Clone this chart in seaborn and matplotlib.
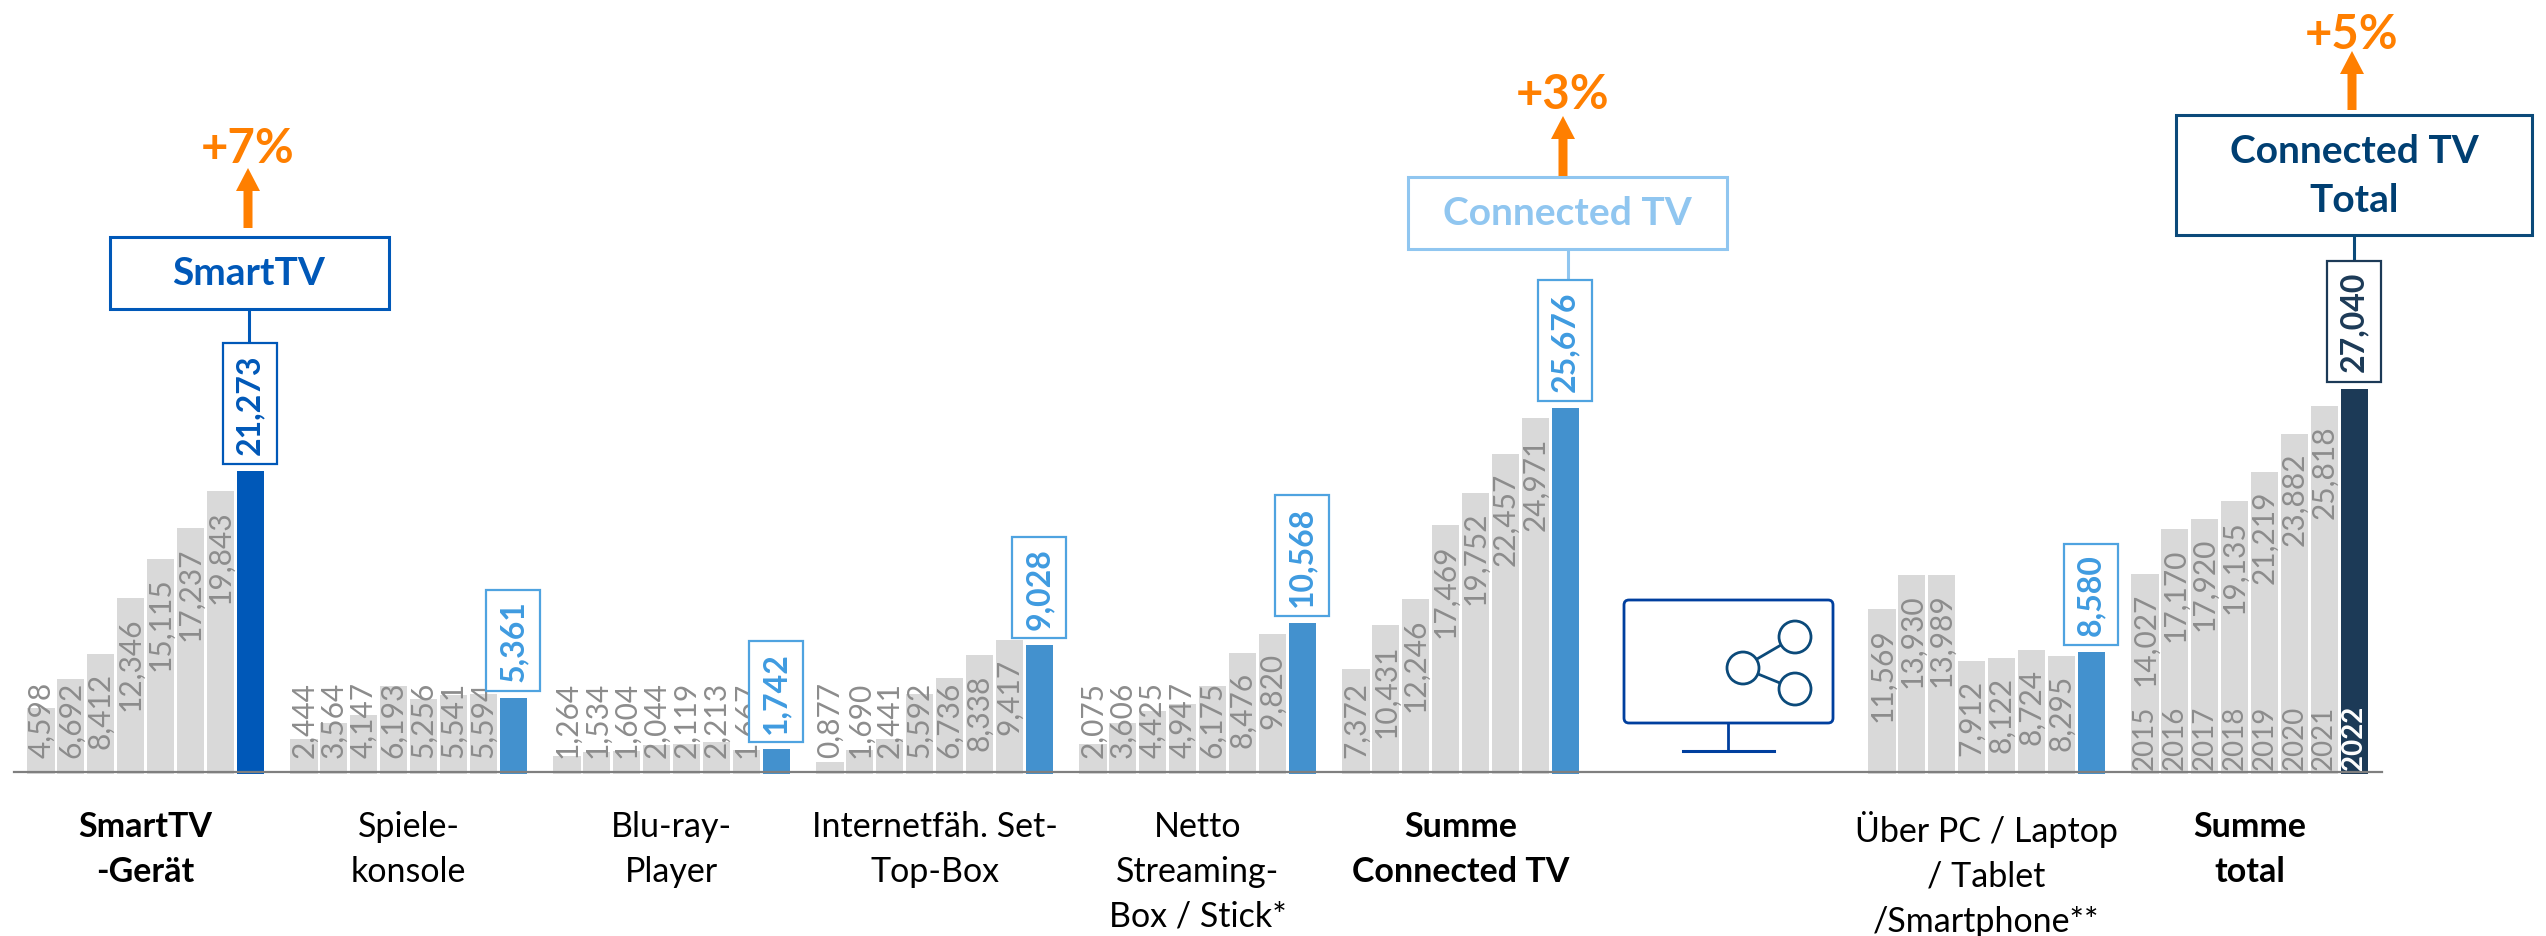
import matplotlib
matplotlib.use('Agg')
import matplotlib.pyplot as plt
from matplotlib.patches import Rectangle, FancyArrow, FancyBboxPatch, Circle
from matplotlib.transforms import Affine2D
import pandas as pd
import seaborn as sns

years = [2015, 2016, 2017, 2018, 2019, 2020, 2021, 2022]

smarttv = [4.598, 6.692, 8.412, 12.346, 15.115, 17.237, 19.843, 21.273]
spiele = [2.444, 3.564, 4.147, 6.193, 5.256, 5.541, 5.594, 5.361]
bluray = [1.264, 1.534, 1.604, 2.044, 2.119, 2.213, 1.667, 1.742]
settop = [0.877, 1.690, 2.441, 5.592, 6.736, 8.338, 9.417, 9.028]
stick = [2.075, 3.606, 4.425, 4.947, 6.175, 8.476, 9.820, 10.568]
summe_ctv = [7.372, 10.431, 12.246, 17.469, 19.752, 22.457, 24.971, 25.676]
pc = [11.569, 13.930, 13.989, 7.912, 8.122, 8.724, 8.295, 8.580]
total = [14.027, 17.170, 17.920, 19.135, 21.219, 23.882, 25.818, 27.040]

# slot 6 stays empty, the monitor icon sits there
groups = [(0, smarttv), (1, spiele), (2, bluray), (3, settop), (4, stick),
          (5, summe_ctv), (7, pc), (8, total)]
group_names = ['SmartTV\n-Gerät', 'Spiele-\nkonsole', 'Blu-ray-\nPlayer',
               'Internetfäh. Set-\nTop-Box', 'Netto\nStreaming-\nBox / Stick*',
               'Summe\nConnected TV', 'Über PC / Laptop\n/ Tablet\n/Smartphone**',
               'Summe\ntotal']
group_bold = [True, False, False, False, False, True, False, True]
last_kind = ['smart', 'mid', 'mid', 'mid', 'mid', 'mid', 'mid', 'navy']

colors = {'old': '#D9D9D9', 'smart': '#0058B8', 'mid': '#4391CE', 'navy': '#1C3A57'}
box_edge = {'smart': '#0058B8', 'mid': '#4FA3E0', 'navy': '#1C3A57'}
box_text = {'smart': '#0058B8', 'mid': '#3F9BE0', 'navy': '#1C3A57'}
ORANGE = '#FF7F00'
GREY_TEXT = '#8C8C8C'

BAR_PX = 29.86
UNIT_PX = 14.25
GROUP_STEP = 263 / BAR_PX
W, H = 2546, 937
BASE_Y = 775
FIRST_X = 41

rows = []
for (slot, vals), kind in zip(groups, last_kind):
    for i, v in enumerate(vals):
        rows.append({'x': slot * GROUP_STEP + i, 'value': v,
                     'kind': kind if i == 7 else 'old', 'year': years[i]})
df = pd.DataFrame(rows)

plt.rcParams['font.family'] = ['Lato', 'DejaVu Sans']
fig = plt.figure(figsize=(W / 100, H / 100), dpi=100)
ax = fig.add_axes([0, 0, 1, 1])
sns.barplot(data=df, x='x', y='value', hue='kind', palette=colors, native_scale=True,
            width=0.905, saturation=1, errorbar=None, legend=False, ax=ax)
ax.set_xlim(-FIRST_X / BAR_PX, (W - FIRST_X) / BAR_PX)
ax.set_ylim((BASE_Y - H) / UNIT_PX, BASE_Y / UNIT_PX)
ax.axis('off')

# pixel coords of the picture, y pointing down
px = Affine2D().scale(1, -1).translate(0, H)


def fmt(v):
    return f'{v:.3f}'.replace('.', ',')


ax.plot([14, 2382], [773, 773], color='#7F7F7F', lw=1.6, transform=px, zorder=4)

for r in df.itertuples():
    if r.kind == 'old':
        label = fmt(r.value)
        length = 85 if len(label) > 5 else 71
        top = r.value * UNIT_PX - 18
        if top - length < 17:
            ax.text(r.x, 17 / UNIT_PX, label, rotation=90, ha='center', va='bottom',
                    fontsize=21.5, color=GREY_TEXT, zorder=5)
        else:
            ax.text(r.x, top / UNIT_PX, label, rotation=90, ha='center', va='top',
                    fontsize=21.5, color=GREY_TEXT, zorder=5)
    else:
        label = fmt(r.value)
        box_h = 121 if len(label) > 5 else 101
        bottom = r.value + 7 / UNIT_PX
        ax.add_patch(Rectangle((r.x - 27 / BAR_PX, bottom), 54 / BAR_PX, box_h / UNIT_PX,
                               fc='white', ec=box_edge[r.kind], lw=1.6, zorder=6))
        ax.text(r.x, bottom + box_h / 2 / UNIT_PX, label, rotation=90, ha='center', va='center',
                fontsize=23, fontweight='bold', color=box_text[r.kind], zorder=7)

# years inside the last group
for i, y in enumerate(years):
    x = 8 * GROUP_STEP + i
    ax.text(x, 5 / UNIT_PX, str(y), rotation=90, ha='center', va='bottom', fontsize=20,
            color='white' if i == 7 else GREY_TEXT, fontweight='bold' if i == 7 else 'normal', zorder=7)

for (slot, vals), name, bold in zip(groups, group_names, group_bold):
    ax.text(slot * GROUP_STEP + 3.5, -36 / UNIT_PX, name, ha='center', va='top', fontsize=24.5,
            linespacing=1.5, color='black', fontweight='bold' if bold else 'normal')


# callouts above the highlighted bars
def callout(x0, x1, y0, y1, color, text, text_color, ty, line_x, line_y1, arrow_x, arrow_y0, arrow_y1, pct, pct_y):
    ax.add_patch(Rectangle((x0, y0), x1 - x0, y1 - y0, fc='white', ec=color, lw=2.2,
                           transform=px, zorder=6))
    ax.plot([line_x, line_x], [y1, line_y1], color=color, lw=2.2, transform=px, zorder=5)
    ax.text(ty[0], ty[1], text, ha='center', va='center', fontsize=28, fontweight='bold',
            color=text_color, linespacing=1.5, transform=px, zorder=7)
    ax.add_patch(FancyArrow(arrow_x, arrow_y0, 0, arrow_y1 - arrow_y0, width=9, head_width=24,
                            head_length=23, length_includes_head=True, color=ORANGE, lw=0,
                            transform=px, zorder=7))
    ax.text(arrow_x, pct_y, pct, ha='center', va='center', fontsize=34, fontweight='bold',
            color=ORANGE, transform=px, zorder=7)


callout(110, 389, 238, 310, '#0058B8', 'SmartTV', '#0058B8', (249, 274),
        249, 344, 248, 229, 169, '+7%', 149)
callout(1408, 1727, 178, 250, '#90C6F0', 'Connected TV', '#90C6F0', (1567, 214),
        1568, 281, 1563, 177, 117, '+3%', 95)
callout(2176, 2532, 116, 236, '#0B4A7A', 'Connected TV\nTotal', '#003F72', (2354, 176),
        2354, 262, 2352, 111, 52, '+5%', 35)

# monitor icon
ax.add_patch(FancyBboxPatch((1628, 605), 201, 115, boxstyle='round,pad=4,rounding_size=5',
                            fc='white', ec='#003F9E', lw=2, transform=px, zorder=3))
ax.plot([1728, 1728], [724, 752], color='#003F9E', lw=2, transform=px, zorder=3)
ax.plot([1683, 1774], [752, 752], color='#003F9E', lw=2.2, transform=px, zorder=3)
ax.plot([1757, 1781], [660, 646], color='#0B4A7A', lw=2, transform=px, zorder=3)
ax.plot([1758, 1780], [675, 684], color='#0B4A7A', lw=2, transform=px, zorder=3)
for cx, cy in [(1743, 669), (1795, 638), (1795, 690)]:
    ax.add_patch(Circle((cx, cy), 16, fc='white', ec='#0B4A7A', lw=2, transform=px, zorder=4))

fig.savefig('out.png', dpi=100)
